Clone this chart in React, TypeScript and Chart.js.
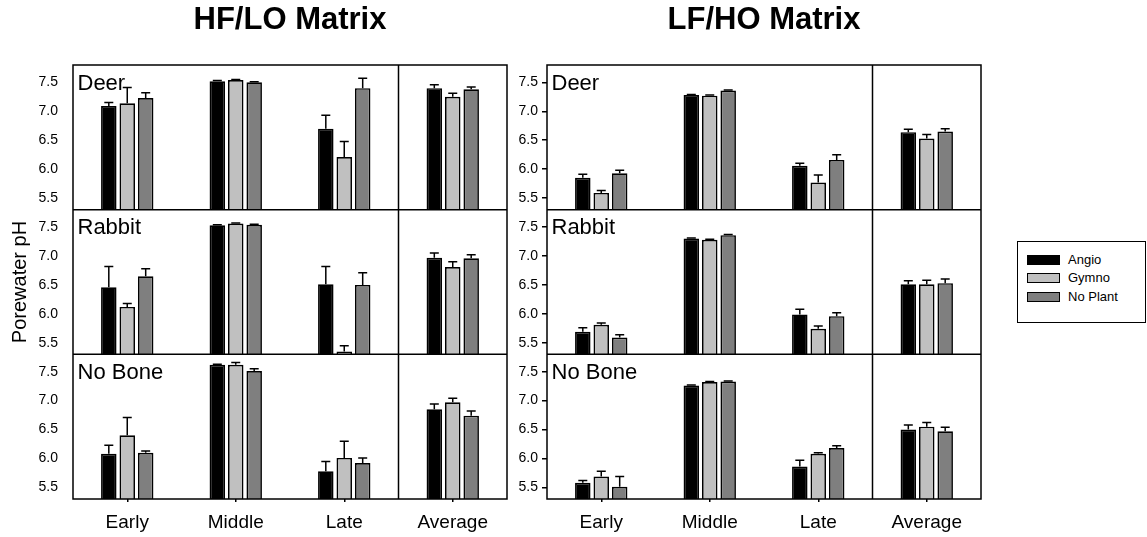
import React, { useEffect, useRef } from 'react';
import { Chart, registerables } from 'chart.js';

Chart.register(...registerables);

const CATEGORIES = ['Early', 'Middle', 'Late', 'Average'];
const SERIES = ['Angio', 'Gymno', 'No Plant'];
const SERIES_COLORS = ['#000000', '#c0c0c0', '#7f7f7f'];
const PANELS = ['Deer', 'Rabbit', 'No Bone'];
const Y_TICKS = [5.5, 6.0, 6.5, 7.0, 7.5];
const Y_MIN = 5.3;
const Y_MAX = 7.8;

// HF/LO matrix — each row is one series (Angio, Gymno, No Plant) over the categories
const HF_DEER = [
  [7.09, 7.52, 6.70, 7.40],
  [7.14, 7.54, 6.21, 7.25],
  [7.23, 7.50, 7.40, 7.38],
];
const HF_DEER_ERR = [
  [0.06, 0.01, 0.23, 0.06],
  [0.27, 0.01, 0.27, 0.06],
  [0.09, 0.01, 0.17, 0.04],
];
const HF_RABBIT = [
  [6.46, 7.53, 6.51, 6.97],
  [6.12, 7.56, 5.35, 6.81],
  [6.65, 7.54, 6.50, 6.96],
];
const HF_RABBIT_ERR = [
  [0.36, 0.01, 0.31, 0.08],
  [0.06, 0.01, 0.10, 0.09],
  [0.13, 0.01, 0.21, 0.06],
];
const HF_NOBONE = [
  [6.08, 7.62, 5.78, 6.85],
  [6.40, 7.62, 6.01, 6.97],
  [6.10, 7.51, 5.92, 6.74],
];
const HF_NOBONE_ERR = [
  [0.15, 0.01, 0.17, 0.09],
  [0.31, 0.04, 0.29, 0.07],
  [0.03, 0.04, 0.09, 0.08],
];

// LF/HO matrix
const LF_DEER = [
  [5.85, 7.28, 6.06, 6.64],
  [5.59, 7.27, 5.77, 6.53],
  [5.93, 7.36, 6.16, 6.65],
];
const LF_DEER_ERR = [
  [0.06, 0.01, 0.04, 0.05],
  [0.04, 0.01, 0.13, 0.07],
  [0.05, 0.01, 0.09, 0.05],
];
const LF_RABBIT = [
  [5.69, 7.30, 5.99, 6.51],
  [5.81, 7.28, 5.74, 6.51],
  [5.59, 7.36, 5.96, 6.53],
];
const LF_RABBIT_ERR = [
  [0.07, 0.01, 0.09, 0.06],
  [0.03, 0.01, 0.05, 0.07],
  [0.05, 0.01, 0.06, 0.07],
];
const LF_NOBONE = [
  [5.58, 7.26, 5.86, 6.50],
  [5.69, 7.32, 6.08, 6.55],
  [5.51, 7.33, 6.18, 6.47],
];
const LF_NOBONE_ERR = [
  [0.04, 0.01, 0.11, 0.08],
  [0.09, 0.01, 0.02, 0.07],
  [0.18, 0.01, 0.04, 0.07],
];

const FONT = '"Liberation Sans", Arial, Helvetica, sans-serif';
const LINE = 1.5;

// Draws error bars, the panel frame, the divider before "Average" and panel names.
const panelPlugin = {
  id: 'panelFrame',
  afterDatasetsDraw(chart: any) {
    const { ctx, chartArea: a, scales } = chart;
    ctx.save();
    ctx.strokeStyle = '#000';
    ctx.lineWidth = LINE;

    chart.data.datasets.forEach((ds: any, i: number) => {
      const meta = chart.getDatasetMeta(i);
      const ys = scales[meta.yAxisID];
      meta.data.forEach((el: any, j: number) => {
        const top = ys.getPixelForValue(ds.data[j] + ds.errors[j]);
        ctx.beginPath();
        ctx.moveTo(el.x, el.y);
        ctx.lineTo(el.x, top);
        ctx.moveTo(el.x - 4.5, top);
        ctx.lineTo(el.x + 4.5, top);
        ctx.stroke();
      });
    });

    ctx.strokeRect(a.left, a.top, a.width, a.height);
    ctx.beginPath();
    for (let p = 0; p < PANELS.length - 1; p++) {
      const b = scales['y' + p].bottom;
      ctx.moveTo(a.left, b);
      ctx.lineTo(a.right, b);
    }
    const xs = scales.x;
    const div = (xs.getPixelForValue(2) + xs.getPixelForValue(3)) / 2;
    ctx.moveTo(div, a.top);
    ctx.lineTo(div, a.bottom);
    ctx.stroke();

    ctx.fillStyle = '#000';
    ctx.font = `22px ${FONT}`;
    ctx.textBaseline = 'alphabetic';
    ctx.textAlign = 'left';
    PANELS.forEach((name, p) => {
      ctx.fillText(name, a.left + 4.5, scales['y' + p].top + 24.5);
    });
    ctx.restore();
  },
};

type Panel = { mean: number[][]; err: number[][] };

function makeConfig(panels: Panel[], title: string, opts: { yWidth: number; padRight: number; yTitle: boolean; yTickMarks: boolean }) {
  const datasets: any[] = [];
  panels.forEach((panel, p) => {
    SERIES.forEach((name, s) => {
      datasets.push({
        label: name,
        data: panel.mean[s],
        errors: panel.err[s],
        stack: name,
        yAxisID: 'y' + p,
        base: Y_MIN,
        backgroundColor: SERIES_COLORS[s],
        borderColor: '#000',
        borderWidth: 1.7,
        categoryPercentage: 0.51,
        barPercentage: 0.84,
      });
    });
  });

  const scales: any = {
    x: {
      type: 'category',
      labels: CATEGORIES,
      offset: true,
      border: { display: false },
      grid: { display: true, drawOnChartArea: false, offset: false, tickLength: 3, color: '#000', lineWidth: LINE },
      ticks: { font: { family: FONT, size: 19 }, color: '#000', padding: 9, maxRotation: 0, autoSkip: false },
      afterFit: (s: any) => { s.height = 38; },
    },
  };
  PANELS.forEach((_, p) => {
    scales['y' + p] = {
      type: 'linear',
      position: 'left',
      stack: 'panels',
      stackWeight: 1,
      weight: PANELS.length - p,
      min: Y_MIN,
      max: Y_MAX,
      stacked: false,
      border: { display: false },
      grid: opts.yTickMarks
        ? { display: true, drawOnChartArea: false, tickLength: 5, color: '#000', lineWidth: LINE }
        : { display: false },
      ticks: {
        font: { family: FONT, size: 14 },
        color: '#000',
        padding: opts.yTickMarks ? 4 : 7,
        callback: (v: any) => Number(v).toFixed(1),
      },
      title: {
        display: opts.yTitle && p === 1,
        text: 'Porewater pH',
        color: '#000',
        font: { family: FONT, size: 20 },
        padding: { top: 8, bottom: 0 },
      },
      afterBuildTicks: (s: any) => { s.ticks = Y_TICKS.map((value) => ({ value })); },
      afterFit: (s: any) => { s.width = opts.yWidth; },
    };
  });

  return {
    type: 'bar' as const,
    data: { labels: CATEGORIES, datasets },
    plugins: [panelPlugin],
    options: {
      responsive: false,
      animation: false as const,
      devicePixelRatio: 1,
      layout: { padding: { left: 0, right: opts.padRight, top: 0, bottom: 0 } },
      scales,
      plugins: {
        legend: { display: false },
        tooltip: { enabled: false },
        title: {
          display: true,
          text: title,
          fullSize: false,
          color: '#000',
          font: { family: FONT, size: 31, weight: 'bold' as const, lineHeight: 1 },
          padding: { top: 5, bottom: 29 },
        },
      },
    },
  };
}

function MatrixChart(props: { panels: Panel[]; title: string; left: number; width: number; yWidth: number; padRight: number; yTitle: boolean; yTickMarks: boolean }) {
  const ref = useRef<HTMLCanvasElement>(null);
  useEffect(() => {
    if (!ref.current) return;
    const chart = new Chart(ref.current, makeConfig(props.panels, props.title, props) as any);
    return () => chart.destroy();
  }, []);
  return (
    <canvas
      ref={ref}
      width={props.width}
      height={537}
      style={{ position: 'absolute', left: props.left, top: 0, width: props.width, height: 537 }}
    />
  );
}

function Legend() {
  return (
    <div
      style={{
        position: 'absolute', left: 1017, top: 241, width: 129, height: 82,
        boxSizing: 'border-box', border: '1px solid #000', fontFamily: FONT, fontSize: 13, color: '#000',
      }}
    >
      {SERIES.map((name, i) => (
        <div key={name} style={{ position: 'absolute', left: 9, top: 13 + i * 18.3, height: 10, display: 'flex', alignItems: 'center' }}>
          <div style={{ width: 33, height: 10, boxSizing: 'border-box', border: '1.5px solid #000', background: SERIES_COLORS[i] }} />
          <span style={{ marginLeft: 8, lineHeight: '10px', whiteSpace: 'nowrap' }}>{name}</span>
        </div>
      ))}
    </div>
  );
}

export default function App() {
  const hf: Panel[] = [
    { mean: HF_DEER, err: HF_DEER_ERR },
    { mean: HF_RABBIT, err: HF_RABBIT_ERR },
    { mean: HF_NOBONE, err: HF_NOBONE_ERR },
  ];
  const lf: Panel[] = [
    { mean: LF_DEER, err: LF_DEER_ERR },
    { mean: LF_RABBIT, err: LF_RABBIT_ERR },
    { mean: LF_NOBONE, err: LF_NOBONE_ERR },
  ];
  return (
    <div style={{ position: 'absolute', left: 0, top: 0, width: 1147, height: 537, background: '#fff' }}>
      <MatrixChart panels={hf} title="HF/LO Matrix" left={0} width={520} yWidth={73} padRight={13} yTitle={true} yTickMarks={false} />
      <MatrixChart panels={lf} title="LF/HO Matrix" left={505} width={490} yWidth={42} padRight={14} yTitle={false} yTickMarks={true} />
      <Legend />
    </div>
  );
}
